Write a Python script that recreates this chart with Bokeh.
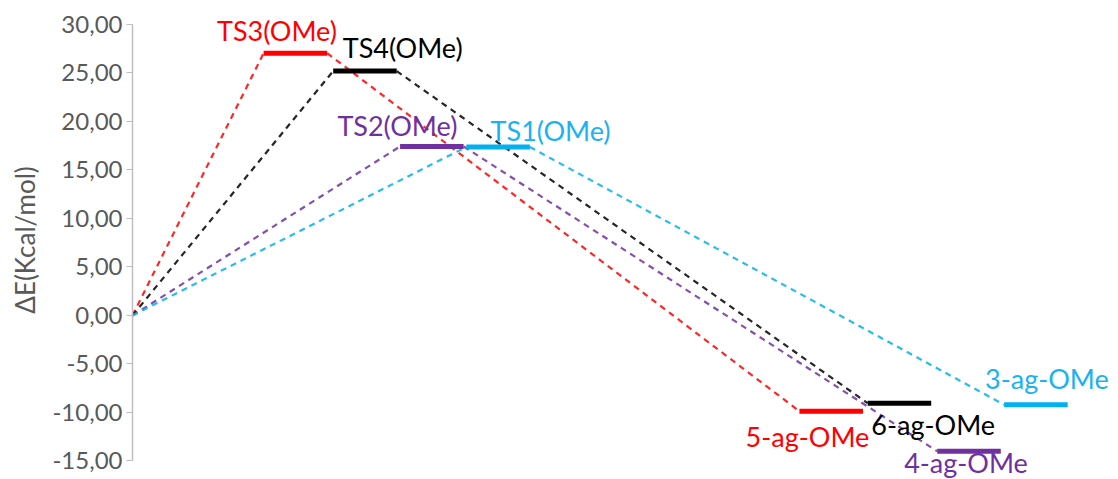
from bokeh.plotting import figure
from bokeh.models import Range1d, FixedTicker, CustomJSTickFormatter, ColumnDataSource
from bokeh.core.properties import value
from bokeh.embed import file_html
from bokeh.resources import INLINE

# ---- data ----
ts_names = ["TS3(OMe)", "TS4(OMe)", "TS2(OMe)", "TS1(OMe)"]
ts_energy = [27.04, 25.19, 17.42, 17.37]
ts_xstart = [1.96, 3.0, 4.0, 4.99]

prod_names = ["5-ag-OMe", "6-ag-OMe", "4-ag-OMe", "3-ag-OMe"]
prod_energy = [-9.87, -9.04, -14.0, -9.2]
prod_xstart = [9.97, 10.99, 12.03, 13.03]

colors = ["#ff0000", "#000000", "#7030a0", "#00b0f0"]
label_colors = ["#ff0000", "#000000", "#7030a0", "#1ab2f0"]

y_ticks = [-15, -10, -5, 0, 5, 10, 15, 20, 25, 30]

level_w = 0.95
# label offsets relative to level start (dx) and level energy (dy)
ts_label_dx = [0.20, 1.04, -0.04, 1.26]
ts_label_dy = [2.30, 2.45, 2.15, 1.70]
prod_label_dx = [0.12, 0.98, 0.43, 0.64]
prod_label_dy = [-2.60, -2.20, -1.15, 2.70]

p = figure(width=1118, height=479, output_backend="svg", toolbar_location=None,
           x_range=Range1d(0, 14.74), y_range=Range1d(-16.91, 32.47),
           min_border_left=132, min_border_right=0, min_border_top=0, min_border_bottom=0)
p.xaxis.visible = False
p.xgrid.visible = False
p.ygrid.visible = False
p.outline_line_color = None

ax = p.yaxis[0]
ax.bounds = (-15, 30)
ax.ticker = FixedTicker(ticks=y_ticks)
ax.formatter = CustomJSTickFormatter(code="return tick.toFixed(2).replace('.', ',');")
ax.axis_line_color = "#bfbfbf"
ax.axis_line_width = 1.5
ax.major_tick_line_color = "#bfbfbf"
ax.major_tick_out = 6
ax.major_tick_in = 0
ax.minor_tick_out = 0
ax.minor_tick_in = 0
ax.major_label_text_font = "Lato"
ax.major_label_text_font_size = "24px"
ax.major_label_text_color = "#595959"
ax.major_label_standoff = 4
ax.axis_label = "ΔE(Kcal/mol)"
ax.axis_label_text_font = "Lato"
ax.axis_label_text_font_size = "26px"
ax.axis_label_text_font_style = "normal"
ax.axis_label_text_color = "#595959"
ax.axis_label_standoff = 8

# dashed connectors: origin -> TS, TS end -> product
for i in range(4):
    p.segment(x0=[0], y0=[0], x1=[ts_xstart[i]], y1=[ts_energy[i]],
              line_color=colors[i], line_width=2.2, line_dash="6 5", alpha=0.85)
    p.segment(x0=[ts_xstart[i] + level_w], y0=[ts_energy[i]],
              x1=[prod_xstart[i]], y1=[prod_energy[i]],
              line_color=colors[i], line_width=2.2, line_dash="6 5", alpha=0.85)

# levels
for i in range(4):
    p.segment(x0=[ts_xstart[i]], y0=[ts_energy[i]], x1=[ts_xstart[i] + level_w], y1=[ts_energy[i]],
              line_color=colors[i], line_width=5)
    p.segment(x0=[prod_xstart[i]], y0=[prod_energy[i]], x1=[prod_xstart[i] + level_w], y1=[prod_energy[i]],
              line_color=colors[i], line_width=5)

# labels
lab = ColumnDataSource(dict(
    x=[ts_xstart[i] + ts_label_dx[i] for i in range(4)] + [prod_xstart[i] + prod_label_dx[i] for i in range(4)],
    y=[ts_energy[i] + ts_label_dy[i] for i in range(4)] + [prod_energy[i] + prod_label_dy[i] for i in range(4)],
    t=ts_names + prod_names,
    c=label_colors + label_colors,
))
p.text(x="x", y="y", text="t", text_color="c", source=lab,
       text_font=value("Lato"), text_font_size="27px",
       text_align="center", text_baseline="middle")

open("out.html", "w").write(file_html(p, INLINE))
